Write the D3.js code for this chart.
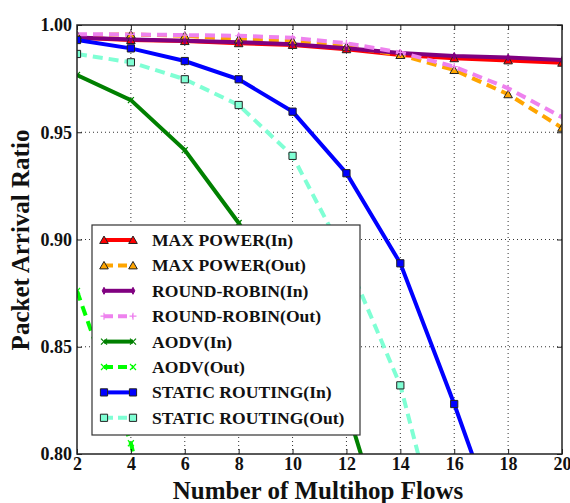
<!DOCTYPE html>
<html>
<head>
<meta charset="utf-8">
<script src="https://cdn.jsdelivr.net/npm/d3@7"></script>
<style>
  body { margin: 0; background: #fff; }
  svg text { font-family: "Liberation Serif", "Times New Roman", serif; font-weight: bold; fill: #111; }
</style>
</head>
<body>
<svg id="chart" width="570" height="503"></svg>
<script>
// flows on the x axis
var flows = [2, 4, 6, 8, 10, 12, 14, 16, 18, 20];
var yTicks = [0.80, 0.85, 0.90, 0.95, 1.00];

var maxPowerIn = [0.9940, 0.9930, 0.9925, 0.9915, 0.9907, 0.9887, 0.9860, 0.9845, 0.9835, 0.9824];
var maxPowerOut = [0.9953, 0.9956, 0.9950, 0.9933, 0.9925, 0.9899, 0.9860, 0.9790, 0.9677, 0.9521];
var roundRobinIn = [0.9942, 0.9932, 0.9927, 0.9920, 0.9910, 0.9892, 0.9870, 0.9856, 0.9848, 0.9837];
var roundRobinOut = [0.9957, 0.9956, 0.9953, 0.9950, 0.9940, 0.9915, 0.9872, 0.9806, 0.9705, 0.9570];
var aodvIn = [0.9767, 0.9650, 0.9417, 0.9077, 0.8670, 0.8220, 0.7400, 0.6600, 0.5800, 0.5000];
var aodvOut = [0.8760, 0.8050, 0.7000, 0.6000, 0.5000, 0.4000, 0.3000, 0.2000, 0.1000, 0.0500];
var staticIn = [0.9930, 0.9891, 0.9832, 0.9747, 0.9596, 0.9309, 0.8889, 0.8233, 0.7530, 0.6800];
var staticOut = [0.9865, 0.9826, 0.9747, 0.9627, 0.9390, 0.8910, 0.8320, 0.7350, 0.6400, 0.5500];

var series = [
    {name: "MAX POWER(In)", values: maxPowerIn, color: "#ff0000", dash: null, marker: "triangle", fill: "#ff0000"},
    {name: "MAX POWER(Out)", values: maxPowerOut, color: "#ffa500", dash: "10,6", marker: "triangle", fill: "#ffa500"},
    {name: "ROUND-ROBIN(In)", values: roundRobinIn, color: "#800080", dash: null, marker: "diamond", fill: "#800080"},
    {name: "ROUND-ROBIN(Out)", values: roundRobinOut, color: "#ee82ee", dash: "10,6", marker: "plus", fill: "none"},
    {name: "AODV(In)", values: aodvIn, color: "#008000", dash: null, marker: "x", fill: "none"},
    {name: "AODV(Out)", values: aodvOut, color: "#00ff00", dash: "10,6", marker: "x", fill: "none"},
    {name: "STATIC ROUTING(In)", values: staticIn, color: "#0000ff", dash: null, marker: "square", fill: "#0000ff"},
    {name: "STATIC ROUTING(Out)", values: staticOut, color: "#7fffd4", dash: "10,6", marker: "square", fill: "#7fffd4"}
];

var svg = d3.select("svg#chart");
var margin = {top: 25, left: 77, right: 8, bottom: 49};
var width = 570 - margin.left - margin.right,
    height = 503 - margin.top - margin.bottom;

var x = d3.scaleLinear().domain([2, 20]).range([0, width]);
var y = d3.scaleLinear().domain([0.80, 1.00]).range([height, 0]);

var plot = svg.append("g")
    .attr("transform", "translate(" + margin.left + "," + margin.top + ")");

plot.append("defs").append("clipPath").attr("id", "clip")
    .append("rect").attr("width", width).attr("height", height);

// dotted grid
plot.append("g").selectAll("line.vg")
    .data(flows.slice(1, -1)).enter().append("line")
    .attr("x1", d => x(d)).attr("x2", d => x(d))
    .attr("y1", 0).attr("y2", height)
    .attr("stroke", "#333").attr("stroke-width", 1).attr("stroke-dasharray", "1,3");
plot.append("g").selectAll("line.hg")
    .data(yTicks.slice(1, -1)).enter().append("line")
    .attr("y1", d => y(d)).attr("y2", d => y(d))
    .attr("x1", 0).attr("x2", width)
    .attr("stroke", "#333").attr("stroke-width", 1).attr("stroke-dasharray", "1,3");

function markerPath(type) {
    if (type == "triangle") return d3.symbol().type(d3.symbolTriangle).size(32)();
    if (type == "square") return d3.symbol().type(d3.symbolSquare).size(52)();
    if (type == "diamond") return "M0,-3.5L1.8,0L0,3.5L-1.8,0Z";
    if (type == "plus") return "M-3.5,0L3.5,0M0,-3.5L0,3.5";
    return "M-3,-3L3,3M-3,3L3,-3";
}

function drawMarker(g, d, cx, cy) {
    var edge = (d.marker == "triangle" || d.marker == "square") ? "#222" : d.color;
    g.append("path")
        .attr("d", markerPath(d.marker))
        .attr("transform", "translate(" + cx + "," + (d.marker == "triangle" ? cy + 1 : cy) + ")")
        .attr("fill", d.fill)
        .attr("stroke", edge)
        .attr("stroke-width", d.marker == "plus" || d.marker == "x" ? 1.2 : 1);
}

var lineGen = d3.line().x((d, i) => x(flows[i])).y(d => y(d));

var curves = plot.append("g").attr("clip-path", "url(#clip)");
series.forEach(function (s) {
    curves.append("path")
        .attr("d", lineGen(s.values))
        .attr("fill", "none")
        .attr("stroke", s.color)
        .attr("stroke-width", 4)
        .attr("stroke-dasharray", s.dash);
});
series.forEach(function (s) {
    var mg = curves.append("g");
    s.values.forEach(function (v, i) {
        drawMarker(mg, s, x(flows[i]), y(v));
    });
});

// axes with inward ticks
var xAxis = d3.axisBottom(x).tickValues(flows).tickSize(-5).tickPadding(5).tickFormat(d3.format("d"));
var yAxis = d3.axisLeft(y).tickValues(yTicks).tickSize(-5).tickPadding(5).tickFormat(d3.format(".2f"));

var xg = plot.append("g").attr("transform", "translate(0," + height + ")").call(xAxis);
var yg = plot.append("g").call(yAxis);
var xg2 = plot.append("g").call(d3.axisTop(x).tickValues(flows).tickSize(-5).tickFormat(""));
var yg2 = plot.append("g").attr("transform", "translate(" + width + ",0)")
    .call(d3.axisRight(y).tickValues(yTicks).tickSize(-5).tickFormat(""));
[xg, yg, xg2, yg2].forEach(function (g) {
    g.select(".domain").remove();
    g.selectAll("line").attr("stroke", "#222");
    g.selectAll("text").style("font-size", "18px").attr("fill", "#111");
});
xg.selectAll("text").attr("dy", "0.62em");

plot.append("rect")
    .attr("width", width).attr("height", height)
    .attr("fill", "none").attr("stroke", "#222").attr("stroke-width", 1.5);

// legend
var legend = svg.append("g").attr("transform", "translate(92,225)");
legend.append("rect")
    .attr("width", 268).attr("height", 210)
    .attr("fill", "#fff").attr("stroke", "#333").attr("stroke-width", 1.2);
series.forEach(function (s, i) {
    var ly = 15 + i * 25.4;
    var row = legend.append("g");
    row.append("line")
        .attr("x1", 12).attr("x2", 41).attr("y1", ly).attr("y2", ly)
        .attr("stroke", s.color).attr("stroke-width", 4)
        .attr("stroke-dasharray", s.dash ? "9,5" : null);
    drawMarker(row, s, 12, ly);
    drawMarker(row, s, 41, ly);
    row.append("text")
        .attr("x", 60).attr("y", ly + 6)
        .style("font-size", "17.6px")
        .text(s.name);
});

svg.append("text")
    .attr("x", 318).attr("y", 499)
    .attr("text-anchor", "middle")
    .style("font-size", "25px")
    .text("Number of Multihop Flows");

svg.append("text")
    .attr("transform", "translate(29,240) rotate(-90)")
    .attr("text-anchor", "middle")
    .style("font-size", "25px")
    .text("Packet Arrival Ratio");
</script>
</body>
</html>
